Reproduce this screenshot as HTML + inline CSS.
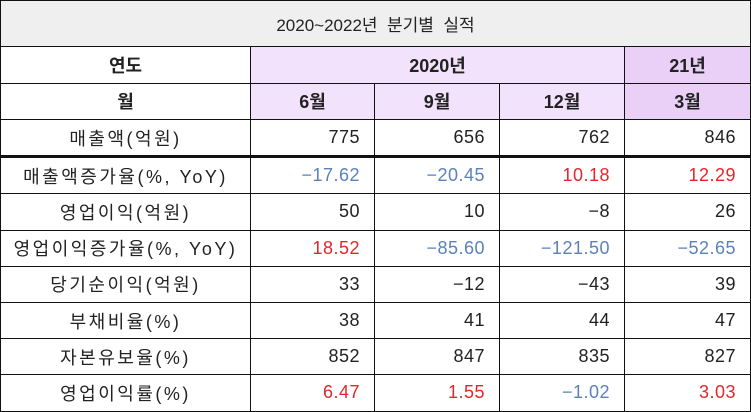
<!DOCTYPE html>
<html><head><meta charset="utf-8"><style>
body{margin:0;background:#fff;}
table{border-collapse:collapse;position:absolute;left:0;top:0;width:750px;table-layout:fixed;font-family:"Liberation Sans","Noto Sans CJK KR","NanumGothic",sans-serif;font-size:17px;color:#222;}
td{border:1.5px solid #111;padding:0;height:35.2px;}
.t td{height:45px;background:#efefef;text-align:center;font-size:17px;}
.h td{font-weight:bold;text-align:center;height:35.5px;font-size:18px;}
.l{background:#f3e2fb;}.d{background:#ead0f7;}
.lab{text-align:center;letter-spacing:2.5px;font-size:18px;}
.n{text-align:right;padding-right:14px;font-size:18px;letter-spacing:0.5px;}
.b{color:#5b82b8;}.r{color:#e3262b;}
.thick td{border-bottom:3px solid #111;}
</style></head><body>
<table>
<colgroup><col style="width:250px"><col style="width:124px"><col style="width:125px"><col style="width:125px"><col style="width:126px"></colgroup>
<tr class="t"><td colspan="5">2020~2022년 &nbsp;분기별 &nbsp;실적</td></tr>
<tr class="h"><td>연도</td><td class="l" colspan="3">2020년</td><td class="d">21년</td></tr>
<tr class="h"><td>월</td><td class="l">6월</td><td class="l">9월</td><td class="l">12월</td><td class="d">3월</td></tr>
<tr class="thick"><td class="lab">매출액(억원)</td><td class="n">775</td><td class="n">656</td><td class="n">762</td><td class="n">846</td></tr>
<tr><td class="lab">매출액증가율(%, YoY)</td><td class="n b">−17.62</td><td class="n b">−20.45</td><td class="n r">10.18</td><td class="n r">12.29</td></tr>
<tr><td class="lab">영업이익(억원)</td><td class="n">50</td><td class="n">10</td><td class="n">−8</td><td class="n">26</td></tr>
<tr><td class="lab">영업이익증가율(%, YoY)</td><td class="n r">18.52</td><td class="n b">−85.60</td><td class="n b">−121.50</td><td class="n b">−52.65</td></tr>
<tr><td class="lab">당기순이익(억원)</td><td class="n">33</td><td class="n">−12</td><td class="n">−43</td><td class="n">39</td></tr>
<tr><td class="lab">부채비율(%)</td><td class="n">38</td><td class="n">41</td><td class="n">44</td><td class="n">47</td></tr>
<tr><td class="lab">자본유보율(%)</td><td class="n">852</td><td class="n">847</td><td class="n">835</td><td class="n">827</td></tr>
<tr><td class="lab">영업이익률(%)</td><td class="n r">6.47</td><td class="n r">1.55</td><td class="n b">−1.02</td><td class="n r">3.03</td></tr>
</table>
</body></html>
